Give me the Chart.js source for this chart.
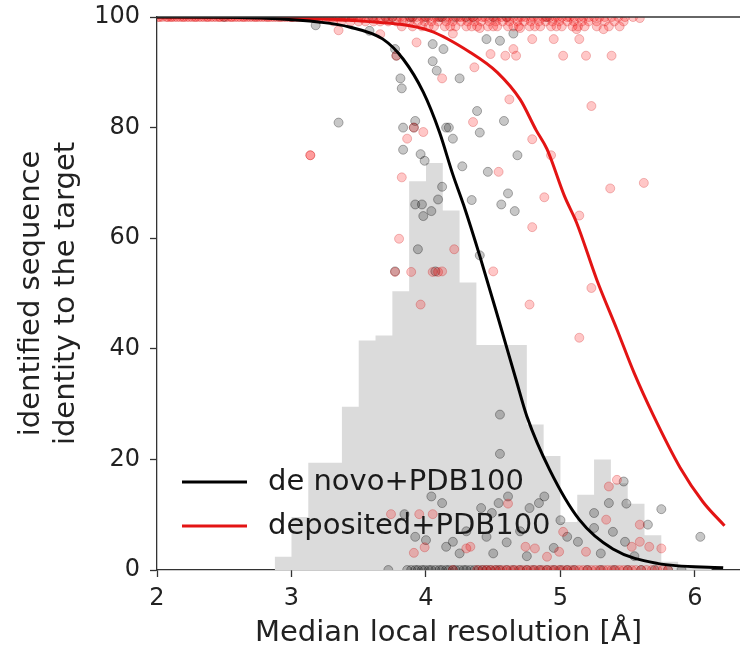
<!DOCTYPE html>
<html>
<head>
<meta charset="utf-8">
<script src="https://cdn.jsdelivr.net/npm/chart.js@4"></script>
<style>
  html, body { margin: 0; padding: 0; background: #fff; }
  #wrap { width: 740px; height: 651px; }
</style>
</head>
<body>
<div id="wrap"><canvas id="chart" width="740" height="651"></canvas></div>
<script>
// axis ticks
const xTicks = [2, 3, 4, 5, 6];
const yTicks = [0, 20, 40, 60, 80, 100];

// histogram of resolutions (bin edges, heights scaled to the plot)
const histEdges = [2.875, 3.0, 3.125, 3.25, 3.375, 3.5, 3.625, 3.75, 3.875, 4.0, 4.125, 4.25, 4.375, 4.5, 4.625,
                   4.75, 4.875, 5.0, 5.125, 5.25, 5.375, 5.5, 5.625, 5.75, 5.875, 6.0, 6.125];
const histHeights = [2.4, 9.6, 19.4, 19.4, 29.5, 41.5, 42.4, 50.4, 70.3, 73.6, 65.0, 52.0, 40.7, 40.7, 40.7,
                     26.3, 20.6, 8.7, 13.6, 20.0, 15.7, 12.0, 6.3, 1.5, 0.8, 0.5];

// fitted curves
const denovoX = [2.0, 2.5, 2.89, 3.2, 3.43, 3.68, 3.83, 3.98, 4.10, 4.20, 4.28, 4.40, 4.54, 4.67, 4.75, 4.92, 5.14, 5.39, 5.72, 6.21];
const denovoY = [100, 99.95, 99.7, 99.1, 98.2, 96.0, 92.4, 86.4, 79.2, 71.5, 66.0, 56.8, 45.3, 34.4, 27.8, 18.1, 9.1, 3.8, 1.2, 0.4];
const depositedX = [2.0, 3.0, 3.5, 4.03, 4.33, 4.53, 4.70, 4.82, 4.90, 5.03, 5.12, 5.27, 5.42, 5.55, 5.69, 5.89, 6.06, 6.22];
const depositedY = [100, 99.8, 99.3, 97.5, 93.6, 90.0, 85.1, 79.5, 76.1, 67.6, 62.8, 52.5, 43.5, 35.5, 28.0, 18.5, 12.3, 8.0];

// targets that reach 100 % (dense band at the top)
const depositedAt100 = [2.01, 2.04, 2.08, 2.1, 2.13, 2.17, 2.19, 2.22, 2.26, 2.28, 2.31, 2.35, 2.37, 2.4, 2.44, 2.46,
  2.49, 2.53, 2.55, 2.58, 2.62, 2.64, 2.67, 2.71, 2.73, 2.76, 2.8, 2.82, 2.85, 2.89, 2.91, 2.94, 2.98, 3.0, 3.03, 3.07,
  3.09, 3.12, 3.16, 3.18, 3.21, 3.25, 3.27, 3.3, 3.34, 3.36, 3.39, 3.43, 3.45, 3.48, 3.52, 3.54, 3.57, 3.61, 3.63, 3.66,
  3.7, 3.72, 3.75, 3.79, 3.81, 3.84, 3.88, 3.9, 3.93, 3.97, 3.99, 4.02, 4.06, 4.08, 4.11, 4.15, 4.17, 4.2, 4.24, 4.26,
  4.29, 4.33, 4.35, 4.38, 4.42, 4.44, 4.47, 4.51, 4.53, 4.56, 4.6, 4.62, 4.65, 4.69, 4.71, 4.74, 4.78, 4.8, 4.83, 4.87,
  4.89, 4.92, 4.96, 4.98, 5.01, 5.05, 5.07, 5.1, 5.14, 5.17, 5.21, 5.25, 5.29, 5.33, 5.38, 5.43, 5.48, 5.54];
const depositedAt100b = [2.02, 2.07, 2.11, 2.15, 2.2, 2.24, 2.29, 2.33, 2.38, 2.42, 2.47, 2.51, 2.56, 2.6, 2.65, 2.69,
  2.74, 2.78, 2.83, 2.87, 2.92, 2.96, 3.01, 3.05, 3.1, 3.14, 3.19, 3.23, 3.28, 3.32, 3.37, 3.41, 3.46, 3.5];
const depositedAt99 = [3.31, 3.37, 3.44, 3.5, 3.55, 3.61, 3.66, 3.72, 3.78, 3.83, 3.88, 3.94, 3.99, 4.04, 4.09, 4.15,
  4.2, 4.26, 4.31, 4.36, 4.41, 4.47, 4.52, 4.57, 4.62, 4.68, 4.73, 4.78, 4.84, 4.89, 4.94, 4.99, 5.05, 5.1, 5.16, 5.21,
  5.27, 5.33, 5.4, 5.47];
const depositedAt98 = [3.82, 3.9, 3.97, 4.02, 4.06, 4.14, 4.18, 4.22, 4.3, 4.34, 4.38, 4.46, 4.5, 4.53, 4.61, 4.65,
  4.69, 4.77, 4.81, 4.85, 4.93, 4.97, 5.01, 5.09, 5.13, 5.18, 5.27, 5.36, 5.44];
const denovoAt100 = [2.5, 3.0, 3.4, 3.45, 3.6, 3.7, 3.75, 3.88, 3.9, 4.0, 4.1, 4.12, 4.22, 4.3, 4.35, 4.5, 4.6, 4.9];

// targets with no identified sequence (band at 0)
const denovoAt0 = [3.72, 3.86, 3.89, 3.92, 3.94, 3.97, 3.99, 4.02, 4.04, 4.07, 4.1, 4.12, 4.15, 4.17, 4.2, 4.22, 4.25,
  4.28, 4.3, 4.33, 4.36, 4.39, 4.42, 4.45, 4.48, 4.52, 4.55, 4.6, 4.65, 4.7, 4.75, 4.8, 4.85, 4.9, 4.95, 5.0, 5.05,
  5.1, 5.2, 5.3, 5.4, 5.5, 5.6, 5.7, 5.8, 5.9];
const depositedAt0 = [4.2, 4.38, 4.42, 4.45, 4.48, 4.51, 4.54, 4.57, 4.6, 4.63, 4.66, 4.69, 4.72, 4.75, 4.78, 4.81,
  4.84, 4.87, 4.9, 4.93, 4.96, 4.99, 5.02, 5.05, 5.08, 5.11, 5.14, 5.17, 5.2, 5.23, 5.26, 5.29, 5.32, 5.35, 5.38, 5.41,
  5.44, 5.47, 5.5, 5.53, 5.56, 5.6, 5.64, 5.68, 5.72, 5.76, 5.8];

// the scattered targets in between
const denovoPoints = [
  [3.18, 98.5], [3.58, 97.5],
  [3.77, 94.2], [3.78, 93], [3.81, 88.9], [3.82, 87.1], [3.92, 81.2], [3.83, 80], [3.35, 80.9], [3.83, 76], [3.96, 75.2],
  [3.99, 74], [4.15, 80], [4.12, 69.3], [4.05, 95.1], [4.13, 94.2], [4.05, 92], [4.08, 90.3], [4.25, 88.9], [4.45, 96],
  [4.55, 95.7], [4.65, 97], [4.38, 83], [4.58, 81.2], [4.17, 80], [4.2, 78], [4.4, 79.1], [4.68, 75], [4.27, 73], [4.46, 72],
  [4.61, 68.1], [4.34, 66.9], [4.56, 66.1], [4.66, 64.9], [4.40, 56.9], [3.92, 66.1], [3.97, 66.1], [3.98, 64], [4.04, 64.9],
  [4.09, 67], [3.94, 58], [3.91, 80], [3.77, 54], [4.07, 54],
  [4.55, 28.1], [4.55, 21], [5.47, 16], [5.36, 12.1], [5.49, 12], [5.75, 11], [5.25, 10.3], [5.25, 7.6], [5.39, 6.9],
  [5.65, 8.2], [5.48, 5.1], [5.13, 5.1], [4.88, 13.3], [4.84, 12.1], [4.77, 11.2], [4.61, 13.3], [4.54, 12.1], [4.41, 11.2],
  [4.49, 10.3], [4.04, 13.3], [4.12, 12.1], [3.84, 10.1], [3.92, 6], [4.0, 5.4], [4.15, 4.2], [4.2, 5.1], [6.04, 6.0],
  [5.0, 9], [4.3, 7], [4.45, 6], [4.6, 5], [4.7, 7], [4.95, 4], [5.05, 6], [4.25, 3], [4.5, 3], [4.75, 2.5], [5.3, 3], [5.55, 2.5]
];
const depositedPoints = [
  [4.4, 98], [4.2, 97], [4.7, 98], [5.59, 99.8],
  [3.14, 75], [3.14, 75], [3.82, 71], [3.78, 93], [3.66, 96.9], [3.35, 97.6], [3.91, 80], [3.98, 79.2], [3.86, 78],
  [3.93, 95.4], [4.12, 88.9], [4.36, 90.9], [4.48, 93.3], [4.59, 93], [4.65, 94.2], [4.67, 93], [4.79, 96], [4.95, 96],
  [5.02, 93], [5.12, 97.8], [4.35, 81], [4.62, 85.1], [4.54, 72], [4.79, 77.9], [4.93, 75], [4.88, 67.4], [5.23, 83.9],
  [5.37, 69], [5.62, 70], [5.19, 93], [5.38, 93], [5.14, 96], [5.32, 97.8], [5.14, 64.1], [4.79, 62],
  [4.21, 58], [4.5, 54], [4.12, 54], [5.23, 51], [4.77, 48], [5.14, 42], [3.80, 59.9], [3.77, 53.9], [3.89, 53.9],
  [4.05, 53.9], [4.09, 53.9], [3.96, 48],
  [5.36, 15.1], [5.42, 16.3], [5.34, 9.1], [5.59, 8.2], [5.53, 4.2], [5.59, 5.1], [5.66, 4.2], [5.75, 3.9], [5.19, 3.3],
  [5.02, 6.9], [4.61, 12], [4.30, 3.9], [4.33, 4.2], [4.74, 4.2], [4.81, 3.9], [4.99, 3.3], [4.90, 2.4], [3.74, 10.1],
  [3.95, 10.1], [4.05, 10.1], [3.91, 3.1], [3.99, 4.1]
];

const toXY = (xs, ys) => xs.map((x, i) => ({ x: x, y: ys[i] }));
const atLevel = (xs, y) => xs.map(x => ({ x: x, y: y }));
const pairs = pts => pts.map(p => ({ x: p[0], y: p[1] }));

const denovoScatter = [].concat(atLevel(denovoAt100, 100), pairs(denovoPoints), atLevel(denovoAt0, 0));
const depositedScatter = [].concat(atLevel(depositedAt100, 100), atLevel(depositedAt100b, 100),
  atLevel(depositedAt99, 99.2), atLevel(depositedAt98, 98.3), pairs(depositedPoints), atLevel(depositedAt0, 0));

// step outline for the histogram
const histData = histHeights.map((h, i) => ({ x: histEdges[i], y: h }));
histData.push({ x: histEdges[histEdges.length - 1], y: 0 });

Chart.defaults.font.family = "'DejaVu Sans', sans-serif";
Chart.defaults.color = '#222';

// matplotlib style legend inside the axes, plus the top spine
const insideLegend = {
  id: 'insideLegend',
  afterDatasetsDraw(chart) {
    const { ctx, chartArea } = chart;
    ctx.save();
    ctx.strokeStyle = '#333';
    ctx.lineWidth = 1.3;
    ctx.beginPath();
    ctx.moveTo(chartArea.left, chartArea.top);
    ctx.lineTo(chartArea.right, chartArea.top);
    ctx.stroke();

    const items = chart.data.datasets.filter(d => d.inLegend);
    ctx.font = '29px "DejaVu Sans"';
    ctx.textBaseline = 'middle';
    items.forEach((d, i) => {
      const y = chartArea.bottom - 88 + i * 44;
      ctx.strokeStyle = d.borderColor;
      ctx.lineWidth = 3;
      ctx.beginPath();
      ctx.moveTo(chartArea.left + 25, y);
      ctx.lineTo(chartArea.left + 90, y);
      ctx.stroke();
      ctx.fillStyle = '#1a1a1a';
      ctx.fillText(d.label, chartArea.left + 111, y);
    });
    ctx.restore();
  }
};

new Chart(document.getElementById('chart'), {
  type: 'scatter',
  data: {
    datasets: [
      {
        type: 'line', label: 'de novo+PDB100', inLegend: true, order: 1,
        data: toXY(denovoX, denovoY),
        borderColor: '#000', borderWidth: 3, pointRadius: 0,
        cubicInterpolationMode: 'monotone', fill: false
      },
      {
        type: 'line', label: 'deposited+PDB100', inLegend: true, order: 2,
        data: toXY(depositedX, depositedY),
        borderColor: '#e31414', borderWidth: 3, pointRadius: 0,
        cubicInterpolationMode: 'monotone', fill: false
      },
      {
        label: 'deposited points', order: 3, clip: 0,
        data: depositedScatter,
        backgroundColor: 'rgba(255,0,0,0.22)', borderColor: 'rgba(200,0,0,0.25)',
        borderWidth: 1, pointRadius: 4.5
      },
      {
        label: 'de novo points', order: 4, clip: 0,
        data: denovoScatter,
        backgroundColor: 'rgba(0,0,0,0.22)', borderColor: 'rgba(0,0,0,0.3)',
        borderWidth: 1, pointRadius: 4.5
      },
      {
        type: 'line', label: 'histogram', order: 10,
        data: histData, stepped: 'before',
        borderWidth: 0, borderColor: 'rgba(0,0,0,0)', pointRadius: 0,
        backgroundColor: 'rgb(219,219,219)', fill: 'origin'
      }
    ]
  },
  options: {
    responsive: false,
    animation: false,
    layout: { autoPadding: false, padding: { top: 17, right: 0, bottom: 0, left: 0 } },
    plugins: { legend: { display: false }, tooltip: { enabled: false } },
    scales: {
      x: {
        type: 'linear', min: 2, max: 6.335,
        afterBuildTicks: axis => { axis.ticks = xTicks.map(v => ({ value: v })); },
        afterFit: s => { s.height = 81; s.paddingLeft = 0; s.paddingRight = 0; },
        grid: { drawOnChartArea: false, drawTicks: true, tickLength: 7, color: '#333', tickWidth: 1.3 },
        border: { display: true, color: '#333', width: 1.3 },
        ticks: { font: { size: 24 }, color: '#222', padding: 7, maxRotation: 0 },
        title: {
          display: true, text: 'Median local resolution [Å]',
          font: { size: 29, lineHeight: 1.2 }, color: '#222', padding: { top: 0, bottom: 0 }
        }
      },
      y: {
        type: 'linear', min: 0, max: 100,
        afterBuildTicks: axis => { axis.ticks = yTicks.map(v => ({ value: v })); },
        afterFit: s => { s.width = 157; s.paddingTop = 0; s.paddingBottom = 0; },
        grid: { drawOnChartArea: false, drawTicks: true, tickLength: 7, color: '#333', tickWidth: 1.3 },
        border: { display: true, color: '#333', width: 1.3 },
        ticks: { font: { size: 24 }, color: '#222', padding: 10 },
        title: {
          display: true, text: ['identified sequence', 'identity to the target'],
          font: { size: 29, lineHeight: 1.2 }, color: '#222', padding: { top: 14, bottom: 0 }
        }
      }
    }
  },
  plugins: [insideLegend]
});
</script>
</body>
</html>
